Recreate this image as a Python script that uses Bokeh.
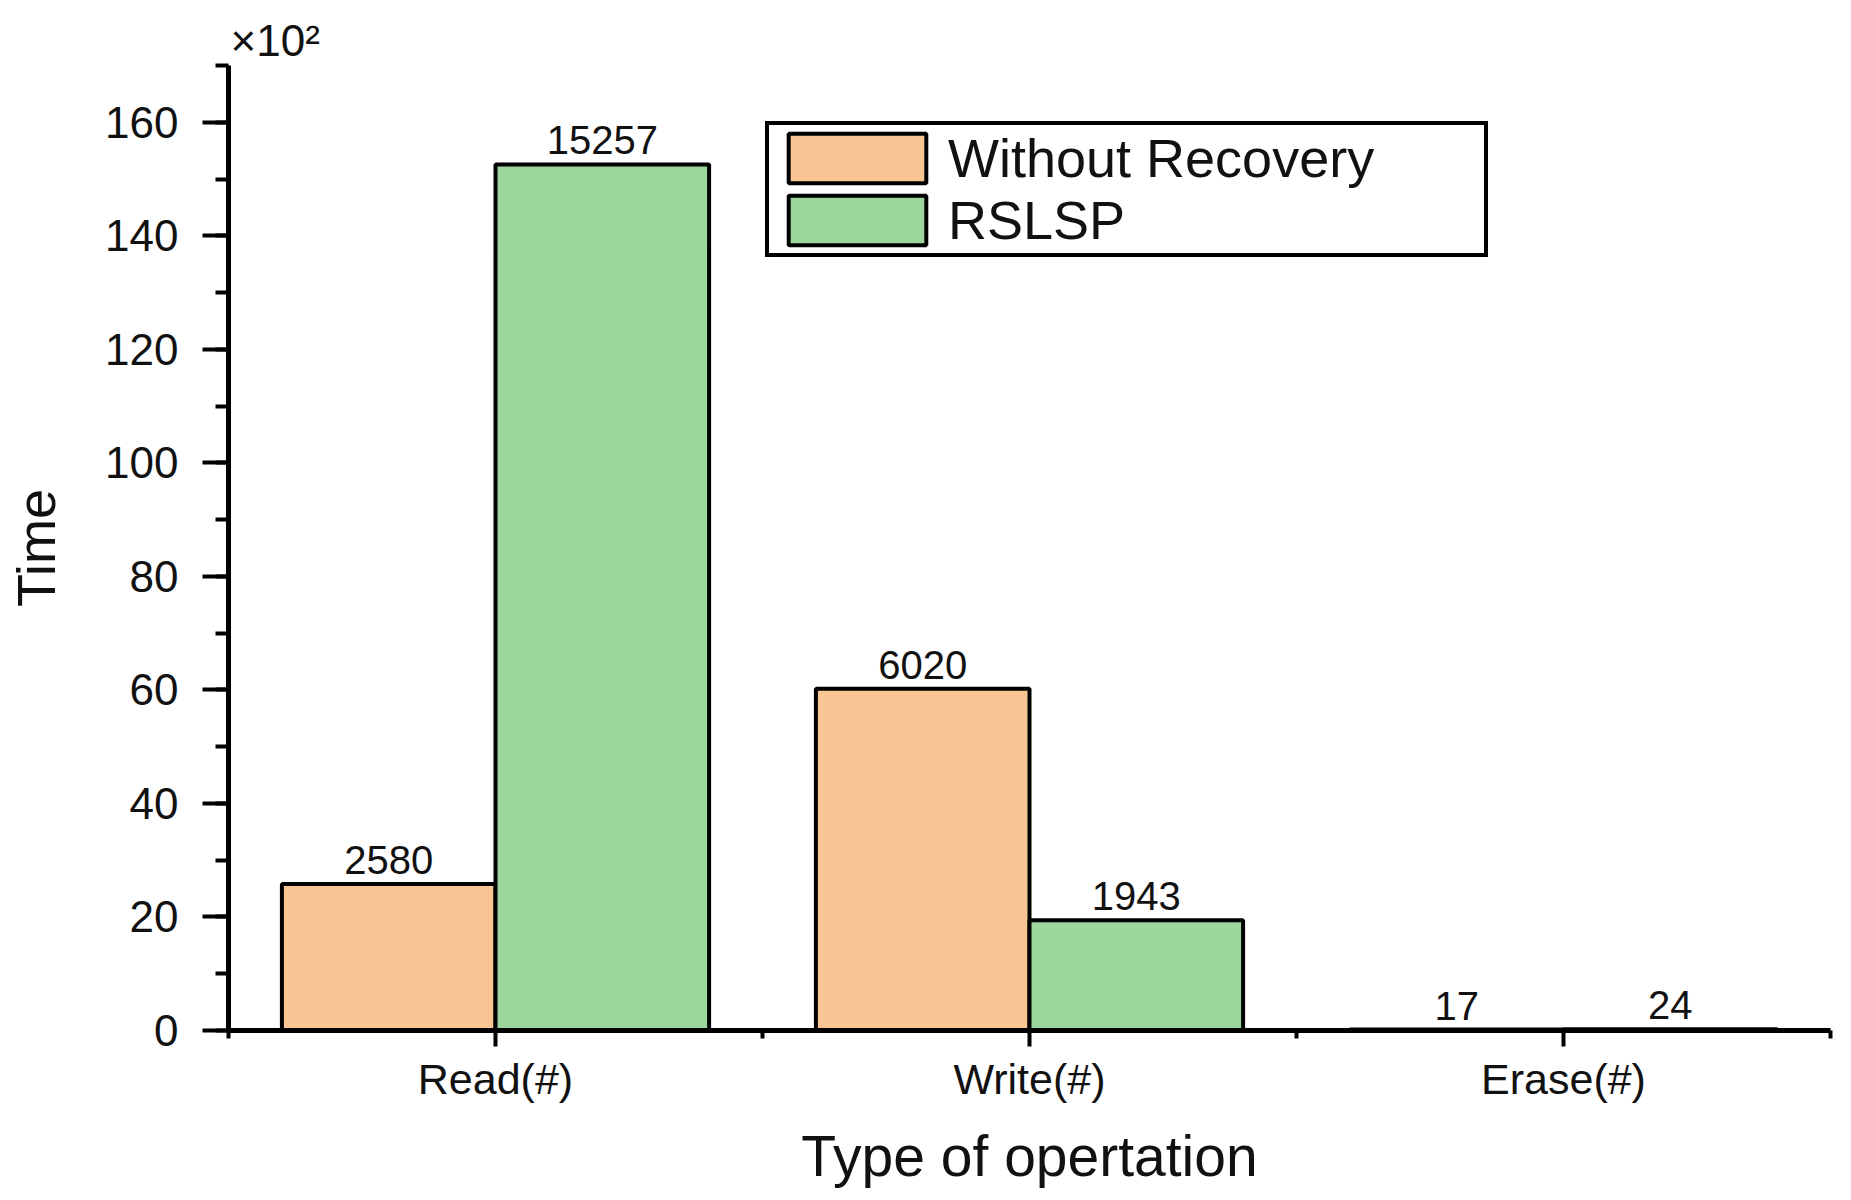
from bokeh.plotting import figure
from bokeh.models import (ColumnDataSource, FixedTicker, SingleIntervalTicker,
                          Range1d)
from bokeh.core.properties import value
from bokeh.embed import file_html
from bokeh.resources import INLINE

# ---- data ----
categories = ["Read(#)", "Write(#)", "Erase(#)"]
without_recovery = [2580, 6020, 17]
rslsp = [15257, 1943, 24]
series_names = ["Without Recovery", "RSLSP"]
y_scale = 100          # values plotted in units of x10^2
y_ticks_interval = 20
y_max = 170

FONT = "Liberation Sans"
ORANGE = "#F9C594"
GREEN = "#9DD69D"

xs = list(range(1, len(categories) + 1))
bw = 0.4

src_a = ColumnDataSource(dict(
    x=[x - bw / 2 for x in xs],
    top=[v / y_scale for v in without_recovery],
    lbl=[str(v) for v in without_recovery]))
src_b = ColumnDataSource(dict(
    x=[x + bw / 2 for x in xs],
    top=[v / y_scale for v in rslsp],
    lbl=[str(v) for v in rslsp]))

p = figure(width=1843, height=1192, output_backend="svg", toolbar_location=None,
           x_range=Range1d(0.5, len(categories) + 0.5), y_range=Range1d(0, y_max),
           min_border_left=228, min_border_right=13, min_border_top=65,
           min_border_bottom=162, title="×10²")
p.outline_line_color = None
p.xgrid.visible = False
p.ygrid.visible = False
p.background_fill_color = "white"

p.title.align = "left"
p.title.offset = 2
p.title.standoff = 2
p.title.text_font = FONT
p.title.text_font_size = "44px"
p.title.text_font_style = "normal"
p.title.text_color = "#111111"

p.vbar(x="x", top="top", width=bw, bottom=0, source=src_a, fill_color=ORANGE,
       line_color="black", line_width=4, legend_label=series_names[0])
p.vbar(x="x", top="top", width=bw, bottom=0, source=src_b, fill_color=GREEN,
       line_color="black", line_width=4, legend_label=series_names[1])

for s in (src_a, src_b):
    p.text(x="x", y="top", text="lbl", source=s, text_align="center",
           text_baseline="bottom", y_offset=-10,
           text_font=value(FONT), text_font_size="40px", text_color="#111111")

# ---- axes ----
xa = p.xaxis[0]
xa.ticker = FixedTicker(ticks=xs, minor_ticks=[x - 0.5 for x in xs] + [xs[-1] + 0.5])
xa.major_label_overrides = {x: c for x, c in zip(xs, categories)}
xa.axis_label = "Type of opertation"
ya = p.yaxis[0]
ya.ticker = SingleIntervalTicker(interval=y_ticks_interval, num_minor_ticks=2)
ya.axis_label = "Time"

for ax in (xa, ya):
    ax.axis_line_width = 5
    ax.axis_line_color = "black"
    ax.major_tick_line_width = 4
    ax.minor_tick_line_width = 4
    ax.major_tick_in = 0
    ax.minor_tick_in = 0
    ax.major_label_text_font = FONT
    ax.axis_label_text_font = FONT
    ax.axis_label_text_font_style = "normal"
    ax.major_label_text_color = "#111111"
    ax.axis_label_text_color = "#111111"

xa.major_tick_out = 16
xa.minor_tick_out = 8
xa.major_label_text_font_size = "43px"
xa.major_label_standoff = 8
xa.axis_label_text_font_size = "57px"
xa.axis_label_standoff = 18

ya.major_tick_out = 26
ya.minor_tick_out = 13
ya.major_label_text_font_size = "44px"
ya.major_label_standoff = 24
ya.axis_label_text_font_size = "54px"
ya.axis_label_standoff = 36

# ---- legend ----
lg = p.legend[0]
lg.location = (537, 773)
lg.margin = 0
lg.padding = 2
lg.spacing = 0
lg.glyph_width = 172
lg.glyph_height = 62
lg.label_height = 62
lg.label_width = 534
lg.label_standoff = 5
lg.label_text_font = FONT
lg.label_text_font_size = "54px"
lg.label_text_color = "#111111"
lg.border_line_color = "black"
lg.border_line_alpha = 1.0
lg.border_line_width = 4
lg.background_fill_color = "white"
lg.background_fill_alpha = 1.0

open("out.html", "w").write(file_html(p, INLINE))
